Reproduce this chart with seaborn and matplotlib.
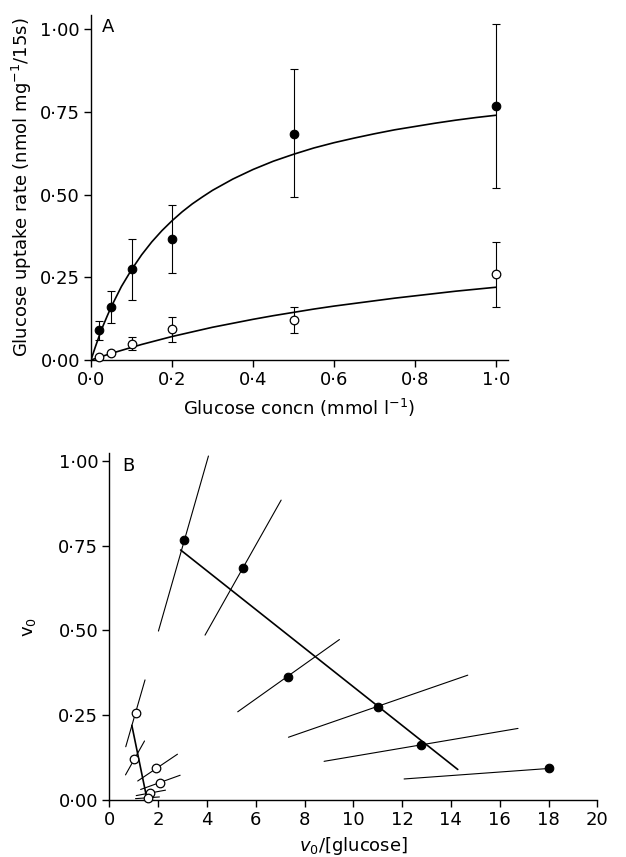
import numpy as np
import pandas as pd
import matplotlib
matplotlib.use("Agg")
import matplotlib.pyplot as plt
import seaborn as sns
from matplotlib.ticker import FuncFormatter, FixedLocator

# ---------------- Panel A data ----------------
conc = [0.02, 0.05, 0.1, 0.2, 0.5, 1.0]
rate_filled = [0.090, 0.159, 0.275, 0.365, 0.683, 0.768]
filled_err_lo = [0.060, 0.111, 0.181, 0.262, 0.492, 0.520]
filled_err_hi = [0.119, 0.209, 0.367, 0.470, 0.879, 1.017]
rate_open = [0.008, 0.021, 0.049, 0.093, 0.121, 0.260]
open_err_lo = [0.008, 0.021, 0.030, 0.055, 0.081, 0.161]
open_err_hi = [0.008, 0.021, 0.069, 0.129, 0.159, 0.356]

fit_conc = [0, 0.01, 0.02, 0.03, 0.04, 0.05, 0.075, 0.1, 0.125, 0.15, 0.175, 0.2,
            0.225, 0.25, 0.275, 0.3, 0.35, 0.4, 0.45, 0.5, 0.55, 0.6, 0.65, 0.7,
            0.75, 0.8, 0.85, 0.9, 0.95, 1.0]
fit_filled = [0, 0.037, 0.072, 0.104, 0.133, 0.161, 0.222, 0.273, 0.318, 0.357,
              0.391, 0.421, 0.448, 0.472, 0.493, 0.513, 0.547, 0.576, 0.601, 0.622,
              0.641, 0.657, 0.671, 0.684, 0.696, 0.706, 0.716, 0.725, 0.733, 0.740]
fit_open = [0, 0.004, 0.008, 0.012, 0.016, 0.020, 0.029, 0.038, 0.047, 0.055,
            0.063, 0.071, 0.078, 0.085, 0.092, 0.099, 0.111, 0.123, 0.134, 0.144,
            0.154, 0.163, 0.171, 0.179, 0.187, 0.194, 0.201, 0.208, 0.214, 0.220]

a_xticks = [0.0, 0.2, 0.4, 0.6, 0.8, 1.0]
a_yticks = [0.0, 0.25, 0.5, 0.75, 1.0]

# ---------------- Panel B data ----------------
b_x_filled = [3.07, 5.48, 7.31, 11.0, 12.77, 18.02]
b_y_filled = [0.766, 0.685, 0.364, 0.275, 0.162, 0.093]
b_filled_lo_x = [2.01, 3.92, 5.26, 7.34, 8.80, 12.08]
b_filled_lo_y = [0.498, 0.486, 0.260, 0.185, 0.114, 0.062]
b_filled_hi_x = [4.06, 7.04, 9.43, 14.69, 16.75, 18.02]
b_filled_hi_y = [1.014, 0.884, 0.473, 0.368, 0.211, 0.093]
b_fit_filled_x = [2.92, 14.28]
b_fit_filled_y = [0.737, 0.090]

b_x_open = [1.07, 1.01, 1.93, 2.07, 1.66, 1.58]
b_y_open = [0.256, 0.120, 0.093, 0.051, 0.021, 0.007]
b_open_lo_x = [0.67, 0.66, 1.16, 1.28, 1.10, 1.07]
b_open_lo_y = [0.157, 0.074, 0.056, 0.031, 0.013, 0.004]
b_open_hi_x = [1.46, 1.44, 2.79, 2.90, 2.30, 2.05]
b_open_hi_y = [0.354, 0.174, 0.135, 0.073, 0.029, 0.009]
b_fit_open_x = [0.92, 1.52]
b_fit_open_y = [0.220, 0.010]

b_xticks = [0, 2, 4, 6, 8, 10, 12, 14, 16, 18, 20]
b_yticks = [0.0, 0.25, 0.5, 0.75, 1.0]

# ---------------- style ----------------
sns.set_style("ticks")
FS = 13
plt.rcParams['font.family'] = ['DejaVu Sans']
plt.rcParams['mathtext.fontset'] = 'dejavusans'
plt.rcParams['axes.linewidth'] = 1.0
plt.rcParams['xtick.major.size'] = 5
plt.rcParams['ytick.major.size'] = 5
plt.rcParams['xtick.major.width'] = 1.0
plt.rcParams['ytick.major.width'] = 1.0
plt.rcParams['xtick.color'] = 'black'
plt.rcParams['ytick.color'] = 'black'
plt.rcParams['axes.edgecolor'] = 'black'
plt.rcParams['text.color'] = 'black'
plt.rcParams['axes.labelcolor'] = 'black'

W, H = 626, 857
fig = plt.figure(figsize=(W / 100, H / 100), dpi=100)
axA = fig.add_axes([91 / W, (H - 360) / H, 417.3 / W, 345 / H])
axB = fig.add_axes([109.4 / W, (H - 800) / H, 487.9 / W, 346.7 / H])


def dotfmt(nd):
    return FuncFormatter(lambda v, p: f"{v:.{nd}f}".replace('.', '\u00b7'))


MS = 38

# ---------------- Panel A ----------------
dfA = pd.DataFrame({'conc': conc, 'filled': rate_filled, 'open': rate_open})
dfFit = pd.DataFrame({'conc': fit_conc, 'filled': fit_filled, 'open': fit_open})

sns.lineplot(data=dfFit, x='conc', y='filled', ax=axA, color='black', lw=1.2,
             sort=False, estimator=None, zorder=2)
sns.lineplot(data=dfFit, x='conc', y='open', ax=axA, color='black', lw=1.2,
             sort=False, estimator=None, zorder=2)

yf = np.array(rate_filled)
axA.errorbar(conc, rate_filled,
             yerr=[yf - np.array(filled_err_lo), np.array(filled_err_hi) - yf],
             fmt='none', ecolor='black', elinewidth=0.8, capsize=3, capthick=0.8, zorder=2)
yo = np.array(rate_open)
axA.errorbar(conc, rate_open,
             yerr=[yo - np.array(open_err_lo), np.array(open_err_hi) - yo],
             fmt='none', ecolor='black', elinewidth=0.8, capsize=3, capthick=0.8, zorder=2)

sns.scatterplot(data=dfA, x='conc', y='filled', ax=axA, s=MS, color='black',
                edgecolor='black', linewidth=0.8, zorder=4, clip_on=False)
sns.scatterplot(data=dfA, x='conc', y='open', ax=axA, s=MS, color='white',
                edgecolor='black', linewidth=0.9, zorder=4, clip_on=False)

axA.set_xlim(0, 1.03)
axA.set_ylim(0, 1.043)
axA.xaxis.set_major_locator(FixedLocator(a_xticks))
axA.yaxis.set_major_locator(FixedLocator(a_yticks))
axA.xaxis.set_major_formatter(dotfmt(1))
axA.yaxis.set_major_formatter(dotfmt(2))
axA.tick_params(labelsize=FS, direction='out', pad=3)
axA.set_xlabel('Glucose concn (mmol l$^{-1}$)', fontsize=FS)
axA.set_ylabel('Glucose uptake rate (nmol mg$^{-1}$/15s)', fontsize=FS)
axA.xaxis.set_label_coords(0.5, -0.108)
axA.yaxis.set_label_coords(-0.137, 0.5)
axA.text(0.027, 0.99, 'A', transform=axA.transAxes, fontsize=FS, va='top', ha='left')
sns.despine(ax=axA)

# ---------------- Panel B ----------------
def segments(lo_x, lo_y, hi_x, hi_y, tag):
    rows = []
    for i in range(len(lo_x)):
        rows.append({'seg': f'{tag}{i}', 'x': lo_x[i], 'y': lo_y[i]})
        rows.append({'seg': f'{tag}{i}', 'x': hi_x[i], 'y': hi_y[i]})
    return rows

segs = pd.DataFrame(segments(b_filled_lo_x, b_filled_lo_y, b_filled_hi_x, b_filled_hi_y, 'f')
                    + segments(b_open_lo_x, b_open_lo_y, b_open_hi_x, b_open_hi_y, 'o'))
sns.lineplot(data=segs, x='x', y='y', units='seg', estimator=None, sort=False,
             ax=axB, color='black', lw=0.8, zorder=2)

fits = pd.DataFrame({'seg': ['F', 'F', 'O', 'O'],
                     'x': b_fit_filled_x + b_fit_open_x,
                     'y': b_fit_filled_y + b_fit_open_y})
sns.lineplot(data=fits, x='x', y='y', units='seg', estimator=None, sort=False,
             ax=axB, color='black', lw=1.2, zorder=2)

dfBf = pd.DataFrame({'x': b_x_filled, 'y': b_y_filled})
dfBo = pd.DataFrame({'x': b_x_open, 'y': b_y_open})
sns.scatterplot(data=dfBf, x='x', y='y', ax=axB, s=MS, color='black',
                edgecolor='black', linewidth=0.8, zorder=4, clip_on=False)
sns.scatterplot(data=dfBo, x='x', y='y', ax=axB, s=MS, color='white',
                edgecolor='black', linewidth=0.9, zorder=4, clip_on=False)

axB.set_xlim(0, 20)
axB.set_ylim(0, 1.022)
axB.xaxis.set_major_locator(FixedLocator(b_xticks))
axB.yaxis.set_major_locator(FixedLocator(b_yticks))
axB.xaxis.set_major_formatter(FuncFormatter(lambda v, p: f"{v:.0f}"))
axB.yaxis.set_major_formatter(dotfmt(2))
axB.tick_params(labelsize=FS, direction='out', pad=3)
axB.set_xlabel('$v_0$/[glucose]', fontsize=FS)
axB.set_ylabel('v$_0$', fontsize=FS)
axB.xaxis.set_label_coords(0.5, -0.10)
axB.yaxis.set_label_coords(-0.146, 0.5)
axB.text(0.027, 0.99, 'B', transform=axB.transAxes, fontsize=FS, va='top', ha='left')
sns.despine(ax=axB)

fig.savefig('out.png', dpi=100)
